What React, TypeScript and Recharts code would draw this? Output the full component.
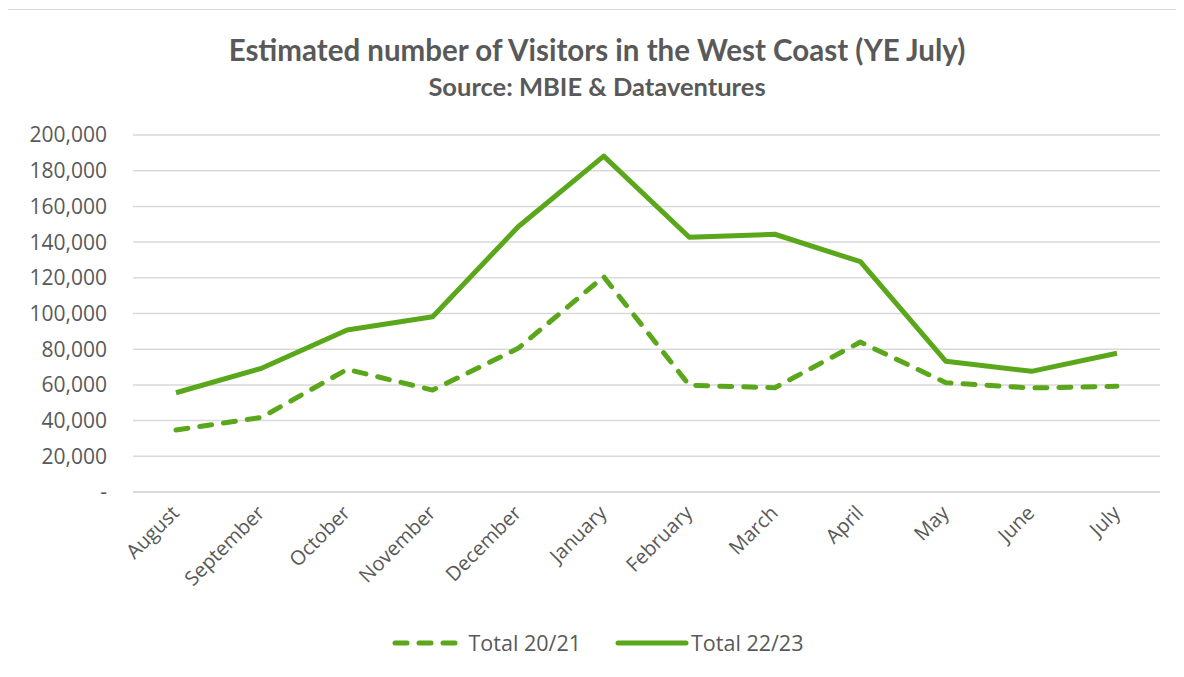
import { LineChart, Line, XAxis, YAxis, CartesianGrid } from 'recharts'

const months = ['August', 'September', 'October', 'November', 'December', 'January', 'February', 'March', 'April', 'May', 'June', 'July']
const total2021 = [34700, 41800, 68700, 57100, 80500, 120600, 59800, 58400, 84000, 61200, 58300, 59200]
const total2223 = [55600, 69300, 90800, 98200, 148600, 188200, 142700, 144400, 129000, 73200, 67600, 77700]
const yTicks = [0, 20000, 40000, 60000, 80000, 100000, 120000, 140000, 160000, 180000, 200000]

const GREEN = '#5ba71b'
const TEXT = '#595959'
const FONT = '"Open Sans", sans-serif'

const data = months.map((m, i) => ({ month: m, t2021: total2021[i], t2223: total2223[i] }))

const MonthTick = (props: any) => {
  const { x, y, payload } = props
  const ty = y + 16
  return (
    <text x={x} y={ty} dy={6} transform={`rotate(-45 ${x} ${ty})`} textAnchor="end" fill={TEXT} fontSize={20} fontFamily={FONT}>
      {payload.value}
    </text>
  )
}

export default function App() {
  return (
    <div style={{ position: 'relative', margin: -8, width: 1184, height: 677, background: '#fff', overflow: 'hidden' }}>
      <div style={{ position: 'absolute', left: 0, top: 30, width: 1194, textAlign: 'center', fontFamily: 'Lato, sans-serif', fontWeight: 700, fontSize: 29.5, color: TEXT, lineHeight: '40px' }}>
        Estimated number of Visitors in the West Coast (YE July)
      </div>
      <div style={{ position: 'absolute', left: 0, top: 70, width: 1194, textAlign: 'center', fontFamily: 'Lato, sans-serif', fontWeight: 700, fontSize: 25.5, color: TEXT, lineHeight: '32px' }}>
        Source: MBIE &amp; Dataventures
      </div>
      <div style={{ position: 'absolute', left: 0, top: 0 }}>
        <LineChart width={1184} height={677} data={data} margin={{ top: 135, right: 24, bottom: 0, left: 0 }}>
          <CartesianGrid vertical={false} stroke="#d9d9d9" strokeWidth={1.5} />
          <XAxis
            dataKey="month"
            height={185}
            padding={{ left: 43, right: 43 }}
            axisLine={{ stroke: '#d9d9d9', strokeWidth: 1.5 }}
            tickLine={false}
            tickSize={0}
            tick={<MonthTick />}
            interval={0}
          />
          <YAxis
            width={133}
            domain={[0, 200000]}
            ticks={yTicks}
            axisLine={false}
            tickLine={false}
            tickSize={0}
            tickMargin={26}
            tick={{ fill: TEXT, fontSize: 21, fontFamily: FONT }}
            tickFormatter={(v: number) => (v === 0 ? '-' : v.toLocaleString('en-US'))}
          />
          <Line dataKey="t2021" name="Total 20/21" stroke={GREEN} strokeWidth={5} strokeDasharray="12 12" strokeLinecap="round" strokeLinejoin="round" dot={false} isAnimationActive={false} />
          <Line dataKey="t2223" name="Total 22/23" stroke={GREEN} strokeWidth={5} strokeLinejoin="round" dot={false} isAnimationActive={false} />
        </LineChart>
      </div>
      <div style={{ position: 'absolute', left: 0, top: 628, width: 1194, display: 'flex', justifyContent: 'center', alignItems: 'center', fontFamily: FONT, fontSize: 21.5, color: TEXT }}>
        <svg width={70} height={10} style={{ marginRight: 8 }}>
          <line x1={4} y1={5} x2={66} y2={5} stroke={GREEN} strokeWidth={5} strokeDasharray="12 12" strokeLinecap="round" />
        </svg>
        <span style={{ marginRight: 34 }}>Total 20/21</span>
        <svg width={74} height={10} style={{ marginRight: 2 }}>
          <line x1={3} y1={5} x2={71} y2={5} stroke={GREEN} strokeWidth={5} strokeLinecap="round" />
        </svg>
        <span>Total 22/23</span>
      </div>
      <div style={{ position: 'absolute', left: 4, top: 9, width: 2, height: 680, background: '#d9d9d9', zIndex: 5 }} />
      <div style={{ position: 'absolute', left: 4, top: 9, width: 1190, height: 1, background: '#d9d9d9', zIndex: 5 }} />
    </div>
  )
}
